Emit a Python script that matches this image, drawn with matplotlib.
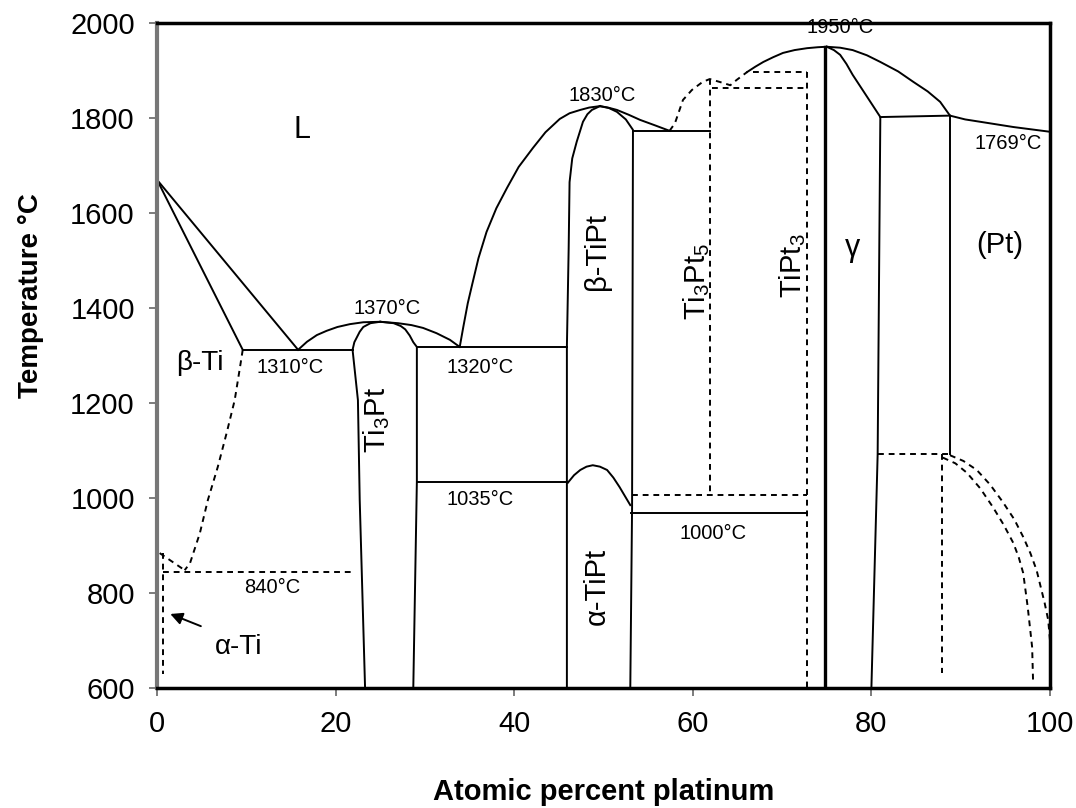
import matplotlib
matplotlib.use("Agg")
import matplotlib.pyplot as plt

plt.rcParams["font.family"] = ["Liberation Sans", "DejaVu Sans"]
plt.rcParams["mathtext.default"] = "regular"

# ---------- data (at.% Pt, °C) ----------
ti_liq_x = [0, 15.8]
ti_liq_t = [1670, 1312]
ti_sol_x = [0, 9.6]
ti_sol_t = [1670, 1312]
eut1310_x = [9.6, 21.9]
eut1310_t = [1312, 1312]

ti3pt_liq_x = [15.8, 16.8, 17.9, 19.0, 20.2, 21.6, 23.1, 25.0, 27.0, 28.5, 29.8, 31.3, 32.8, 33.9]
ti3pt_liq_t = [1312, 1329, 1343, 1352, 1360, 1366, 1370, 1371, 1368, 1364, 1358, 1347, 1333, 1318]
ti3pt_left_x = [23.3, 22.7, 22.5, 21.9, 22.1, 22.4, 22.7, 23.1, 23.9, 25.0]
ti3pt_left_t = [600, 996, 1206, 1312, 1328, 1339, 1350, 1360, 1368, 1371]
ti3pt_right_x = [25.0, 26.5, 27.3, 27.8, 28.3, 28.7, 29.1, 29.1, 28.7]
ti3pt_right_t = [1371, 1368, 1362, 1355, 1342, 1328, 1318, 1034, 600]

eut1320_x = [29.1, 45.9]
eut1320_t = [1318, 1318]
eut1035_x = [29.1, 46.0]
eut1035_t = [1034, 1034]

tipt_liq_left_x = [33.9, 34.3, 34.8, 35.3, 36.0, 36.9, 38.0, 39.2, 40.5, 42.1, 43.5, 45.1, 46.2, 47.4, 48.4, 49.6]
tipt_liq_left_t = [1318, 1360, 1410, 1450, 1505, 1560, 1610, 1653, 1697, 1737, 1770, 1798, 1810, 1817, 1822, 1825]
tipt_liq_right_x = [49.6, 50.5, 51.5, 52.8, 54.1, 55.7, 57.4]
tipt_liq_right_t = [1825, 1822, 1817, 1807, 1796, 1785, 1773]
btipt_left_x = [45.9, 45.9, 46.1, 46.2, 46.5, 47.0, 47.7, 48.2, 48.7, 49.6]
btipt_left_t = [600, 1318, 1526, 1665, 1715, 1750, 1792, 1808, 1817, 1825]
btipt_right_x = [49.6, 50.6, 51.5, 52.5, 53.3, 53.2, 53.0]
btipt_right_t = [1825, 1821, 1813, 1797, 1775, 981, 600]
atipt_x = [46.0, 46.7, 47.4, 48.1, 48.8, 49.6, 50.4, 51.1, 51.8, 52.4, 53.0]
atipt_t = [1032, 1048, 1059, 1066, 1069, 1066, 1059, 1043, 1023, 1004, 985]

per1773_x = [53.3, 61.9]
per1773_t = [1773, 1773]
ti3pt5_liq_x = [57.4, 58.0, 58.9, 59.9, 61.1, 61.9, 63.0, 64.2, 64.9, 66.1]
ti3pt5_liq_t = [1773, 1789, 1838, 1859, 1876, 1882, 1876, 1869, 1880, 1897]
tipt3_liq_x = [66.1, 67.0, 67.9, 69.0, 70.1, 71.4, 72.8, 74.0, 75.0]
tipt3_liq_t = [1897, 1908, 1918, 1928, 1937, 1943, 1947, 1949, 1950]
ti3pt5_vert_x = [61.9, 61.9]
ti3pt5_vert_t = [1882, 1006]
dash1006_x = [53.2, 72.8]
dash1006_t = [1006, 1006]
line970_x = [53.1, 72.8]
line970_t = [968, 968]
tipt3_vert_x = [72.8, 72.8]
tipt3_vert_t = [1897, 600]
dash1897_x = [66.7, 72.8]
dash1897_t = [1897, 1897]
dash1863_x = [62.1, 72.8]
dash1863_t = [1863, 1863]

gamma_comp_x = [74.8, 74.8]
gamma_comp_t = [1950, 600]
gamma_right_x = [75.0, 75.8, 76.5, 77.2, 77.9, 79.4, 81.0, 81.0, 80.7, 80.0]
gamma_right_t = [1950, 1943, 1933, 1914, 1891, 1848, 1802, 1802, 1092, 600]
per1802_x = [81.0, 88.8]
per1802_t = [1802, 1805]
pt_liq_x = [75.0, 76.5, 77.9, 79.5, 81.0, 83.0, 84.7, 86.3, 87.7, 88.8, 90.5, 92.2, 95.9, 100.0]
pt_liq_t = [1950, 1948, 1943, 1932, 1918, 1898, 1876, 1856, 1834, 1805, 1797, 1792, 1781, 1771]
pt_left_x = [88.8, 88.8]
pt_left_t = [1805, 1092]
dash1092_x = [80.7, 88.8]
dash1092_t = [1092, 1092]
dash879_x = [87.9, 87.9]
dash879_t = [1092, 632]
pt_outer_x = [88.8, 90.3, 91.8, 93.3, 94.7, 96.0, 97.0, 97.8, 98.5, 99.4, 99.8, 100.0]
pt_outer_t = [1090, 1078, 1059, 1028, 992, 955, 918, 884, 848, 779, 743, 700]
pt_inner_x = [88.0, 89.4, 90.7, 92.2, 93.6, 94.8, 95.9, 96.5, 97.0, 97.5, 98.0, 98.1]
pt_inner_t = [1085, 1073, 1053, 1020, 981, 944, 905, 875, 842, 771, 686, 617]

bti_transus_x = [9.6, 9.3, 8.7, 7.8, 6.8, 5.7, 4.8, 3.7, 3.1]
bti_transus_t = [1312, 1276, 1206, 1137, 1065, 996, 926, 863, 848]
ati_transus_x = [0.3, 3.1]
ati_transus_t = [884, 848]
eut840_x = [0.7, 21.9]
eut840_t = [844, 844]
ati_solvus_x = [0.7, 0.7]
ati_solvus_t = [884, 630]

solid_lines = [
    (ti_liq_x, ti_liq_t), (ti_sol_x, ti_sol_t), (eut1310_x, eut1310_t),
    (ti3pt_liq_x, ti3pt_liq_t), (ti3pt_left_x, ti3pt_left_t),
    (ti3pt_right_x, ti3pt_right_t), (eut1320_x, eut1320_t), (eut1035_x, eut1035_t),
    (tipt_liq_left_x, tipt_liq_left_t), (tipt_liq_right_x, tipt_liq_right_t),
    (btipt_left_x, btipt_left_t), (btipt_right_x, btipt_right_t), (atipt_x, atipt_t),
    (per1773_x, per1773_t), (tipt3_liq_x, tipt3_liq_t), (line970_x, line970_t),
    (gamma_right_x, gamma_right_t), (per1802_x, per1802_t), (pt_liq_x, pt_liq_t),
    (pt_left_x, pt_left_t),
]
dashed_lines = [
    (ti3pt5_liq_x, ti3pt5_liq_t), (ti3pt5_vert_x, ti3pt5_vert_t),
    (dash1006_x, dash1006_t), (tipt3_vert_x, tipt3_vert_t),
    (dash1897_x, dash1897_t), (dash1863_x, dash1863_t), (dash1092_x, dash1092_t),
    (dash879_x, dash879_t), (pt_outer_x, pt_outer_t), (pt_inner_x, pt_inner_t),
    (bti_transus_x, bti_transus_t), (ati_transus_x, ati_transus_t),
    (eut840_x, eut840_t), (ati_solvus_x, ati_solvus_t),
]

# (text, x, T, size, rotation)
phase_labels = [
    ("L", 16.2, 1775, 22, 0),
    ("β-Ti", 4.8, 1284, 20, 0),
    ("α-Ti", 9.1, 686, 20, 0),
    ("Ti$_3$Pt", 24.6, 1164, 21, 90),
    ("β-TiPt", 49.3, 1518, 21, 90),
    ("α-TiPt", 49.3, 813, 21, 90),
    ("Ti$_3$Pt$_5$", 60.4, 1455, 21, 90),
    ("TiPt$_3$", 71.2, 1490, 21, 90),
    ("γ", 77.9, 1526, 22, 0),
    ("(Pt)", 94.4, 1532, 21, 0),
]
temp_labels = [
    ("1310°C", 14.9, 1274), ("1370°C", 25.8, 1400), ("1320°C", 36.2, 1274),
    ("1035°C", 36.2, 996), ("840°C", 12.9, 811), ("1830°C", 49.9, 1848),
    ("1950°C", 76.5, 1990), ("1769°C", 95.3, 1747), ("1000°C", 62.3, 926),
]

x_ticks = [0, 20, 40, 60, 80, 100]
y_ticks = [600, 800, 1000, 1200, 1400, 1600, 1800, 2000]

# ---------- plot ----------
fig = plt.figure(figsize=(10.76, 8.08), dpi=100)
ax = fig.add_axes([157 / 1076, 1 - 688 / 808, (1050 - 157) / 1076, (688 - 23) / 808])

for xs, ts in solid_lines:
    ax.plot(xs, ts, color="black", lw=1.4, solid_joinstyle="round")
for xs, ts in dashed_lines:
    ax.plot(xs, ts, color="black", lw=1.4, ls=(0, (3, 2.5)))
ax.plot(gamma_comp_x, gamma_comp_t, color="black", lw=2.4)

for txt, x, t, size, rot in phase_labels:
    ax.text(x, t, txt, fontsize=size, rotation=rot, ha="center", va="center")
for txt, x, t in temp_labels:
    ax.text(x, t, txt, fontsize=14.5, ha="center", va="center")

ax.annotate("", xy=(1.2, 758), xytext=(5.2, 728),
            arrowprops=dict(arrowstyle="-|>", color="black", lw=1.4, mutation_scale=18))

ax.set_xlim(0, 100)
ax.set_ylim(600, 2000)
ax.set_xticks(x_ticks)
ax.set_yticks(y_ticks)
ax.tick_params(direction="out", length=6, width=1.2, color="#666666",
               labelsize=21, pad=10)
for side in ["top", "bottom", "right"]:
    ax.spines[side].set_color("black")
    ax.spines[side].set_linewidth(2.5)
ax.spines["left"].set_color("#777777")
ax.spines["left"].set_linewidth(3)

ax.set_xlabel("Atomic percent platinum", fontsize=21, fontweight="bold")
ax.set_ylabel("Temperature °C", fontsize=20, fontweight="bold")
ax.xaxis.set_label_coords(0.5, -0.135)
ax.yaxis.set_label_coords(-0.127, 0.59)

fig.savefig("out.png", dpi=100)
